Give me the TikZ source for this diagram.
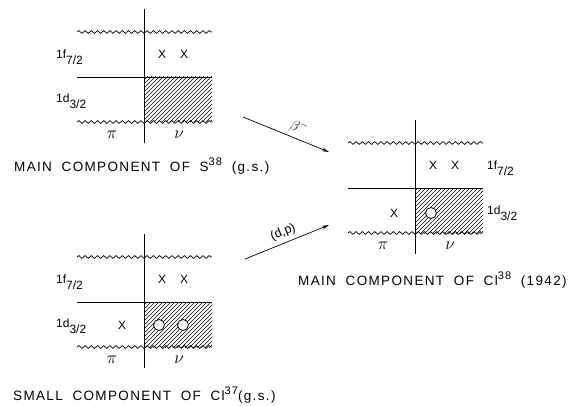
\documentclass[tikz,border=0pt]{standalone}
\usepackage{fontspec}
\setmainfont{Liberation Sans}
\newfontfamily\capfont[LetterSpace=10,WordSpace=1.9]{Liberation Sans}
\usetikzlibrary{decorations.pathmorphing,arrows.meta}
\newcommand{\lvl}[2]{1#1\raisebox{-6.5pt}{#2}}
\newcommand{\iso}[2]{#1\raisebox{6.5pt}{\fontsize{11}{11}\selectfont #2}}
\tikzset{
  wavy/.style={line width=0.7pt, decorate, decoration={snake, segment length=6.2pt, amplitude=1.4pt}},
  solid line/.style={line width=0.8pt},
  hatch/.style={line width=0.45pt},
  xmark/.style={font=\fontsize{12}{13}\selectfont, inner sep=0pt},
  hole/.style={circle, draw, line width=0.8pt, fill=white, minimum size=11pt, inner sep=0pt},
  lvllabel/.style={font=\fontsize{12}{13}\selectfont, anchor=west, inner sep=0pt},
  greek/.style={font=\fontsize{16}{17}\selectfont, inner sep=0pt},
  caption/.style={font=\capfont\fontsize{13.5}{15}\selectfont, anchor=west, inner sep=0pt},
  arr/.style={line width=0.7pt, -{Stealth[length=7pt,width=3.5pt]}}
}
% basic shell drawing: #1 = name prefix
\newcommand{\shell}[1]{%
  \begin{scope}
    \clip (0,45) rectangle (68,90);
    \foreach \i in {-92,-88,...,68} \draw[hatch] (\i,92) -- ++(50,-50);
  \end{scope}
  \draw[wavy] (-67,0) -- (68,0);
  \draw[wavy] (-67,90) -- (68,90);
  \draw[solid line] (-67,45) -- (68,45);
  \coordinate (#1-vt) at (0,-23);
  \coordinate (#1-vb) at (0,111);
  \draw[solid line] (#1-vt) -- (#1-vb);
  \node[greek] (#1-pi) at (-32,103) {$\pi$};
  \node[greek] (#1-nu) at (35,103) {$\nu$};
  \node[xmark] (#1-x1) at (18,22) {X};
  \node[xmark] (#1-x2) at (40,22) {X};
}
\begin{document}
\begin{tikzpicture}[x=1pt,y=-1pt]
\useasboundingbox (0,0) rectangle (569,406);
\fill[white] (0,0) rectangle (569,406);

% Diagram 1: S38
\begin{scope}[shift={(144,32)}]
  \shell{a}
  \node[lvllabel] (a-f) at (-88,25) {\lvl{f}{7/2}};
  \node[lvllabel] (a-d) at (-88,69) {\lvl{d}{3/2}};
\end{scope}
\node[caption] (capa) at (14,166) {MAIN COMPONENT OF \iso{S}{38} (g.s.)};

% Diagram 2: Cl37
\begin{scope}[shift={(144,257)}]
  \shell{b}
  \node[xmark] (b-x3) at (-22,68) {X};
  \node[hole] (b-h1) at (15,68) {};
  \node[hole] (b-h2) at (39,68) {};
  \node[lvllabel] (b-f) at (-88,25) {\lvl{f}{7/2}};
  \node[lvllabel] (b-d) at (-88,69) {\lvl{d}{3/2}};
\end{scope}
\node[caption] (capb) at (13,395) {SMALL COMPONENT OF \iso{Cl}{37}(g.s.)};

% Diagram 3: Cl38
\begin{scope}[shift={(415,143)}]
  \shell{c}
  \node[xmark] (c-x3) at (-21,70) {X};
  \node[hole] (c-h1) at (16,70) {};
  \node[lvllabel] (c-f) at (72,25) {\lvl{f}{7/2}};
  \node[lvllabel] (c-d) at (72,70) {\lvl{d}{3/2}};
\end{scope}
\node[caption] (capc) at (298,280) {MAIN COMPONENT OF \iso{Cl}{38} (1942)};

% arrows
\coordinate (b0) at (243,117);
\coordinate (b1) at (329,152);
\coordinate (d0) at (245,259);
\coordinate (d1) at (329,225);
\draw[arr] (b0) -- node[sloped, above, pos=0.6, inner sep=4pt, font=\fontsize{15}{15}\selectfont] (beta) {$\beta^-$} (b1);
\draw[arr] (d0) -- node[sloped, above, pos=0.5, inner sep=4pt, font=\fontsize{12.5}{13}\selectfont] (dp) {(d,p)} (d1);
\end{tikzpicture}
\end{document}
